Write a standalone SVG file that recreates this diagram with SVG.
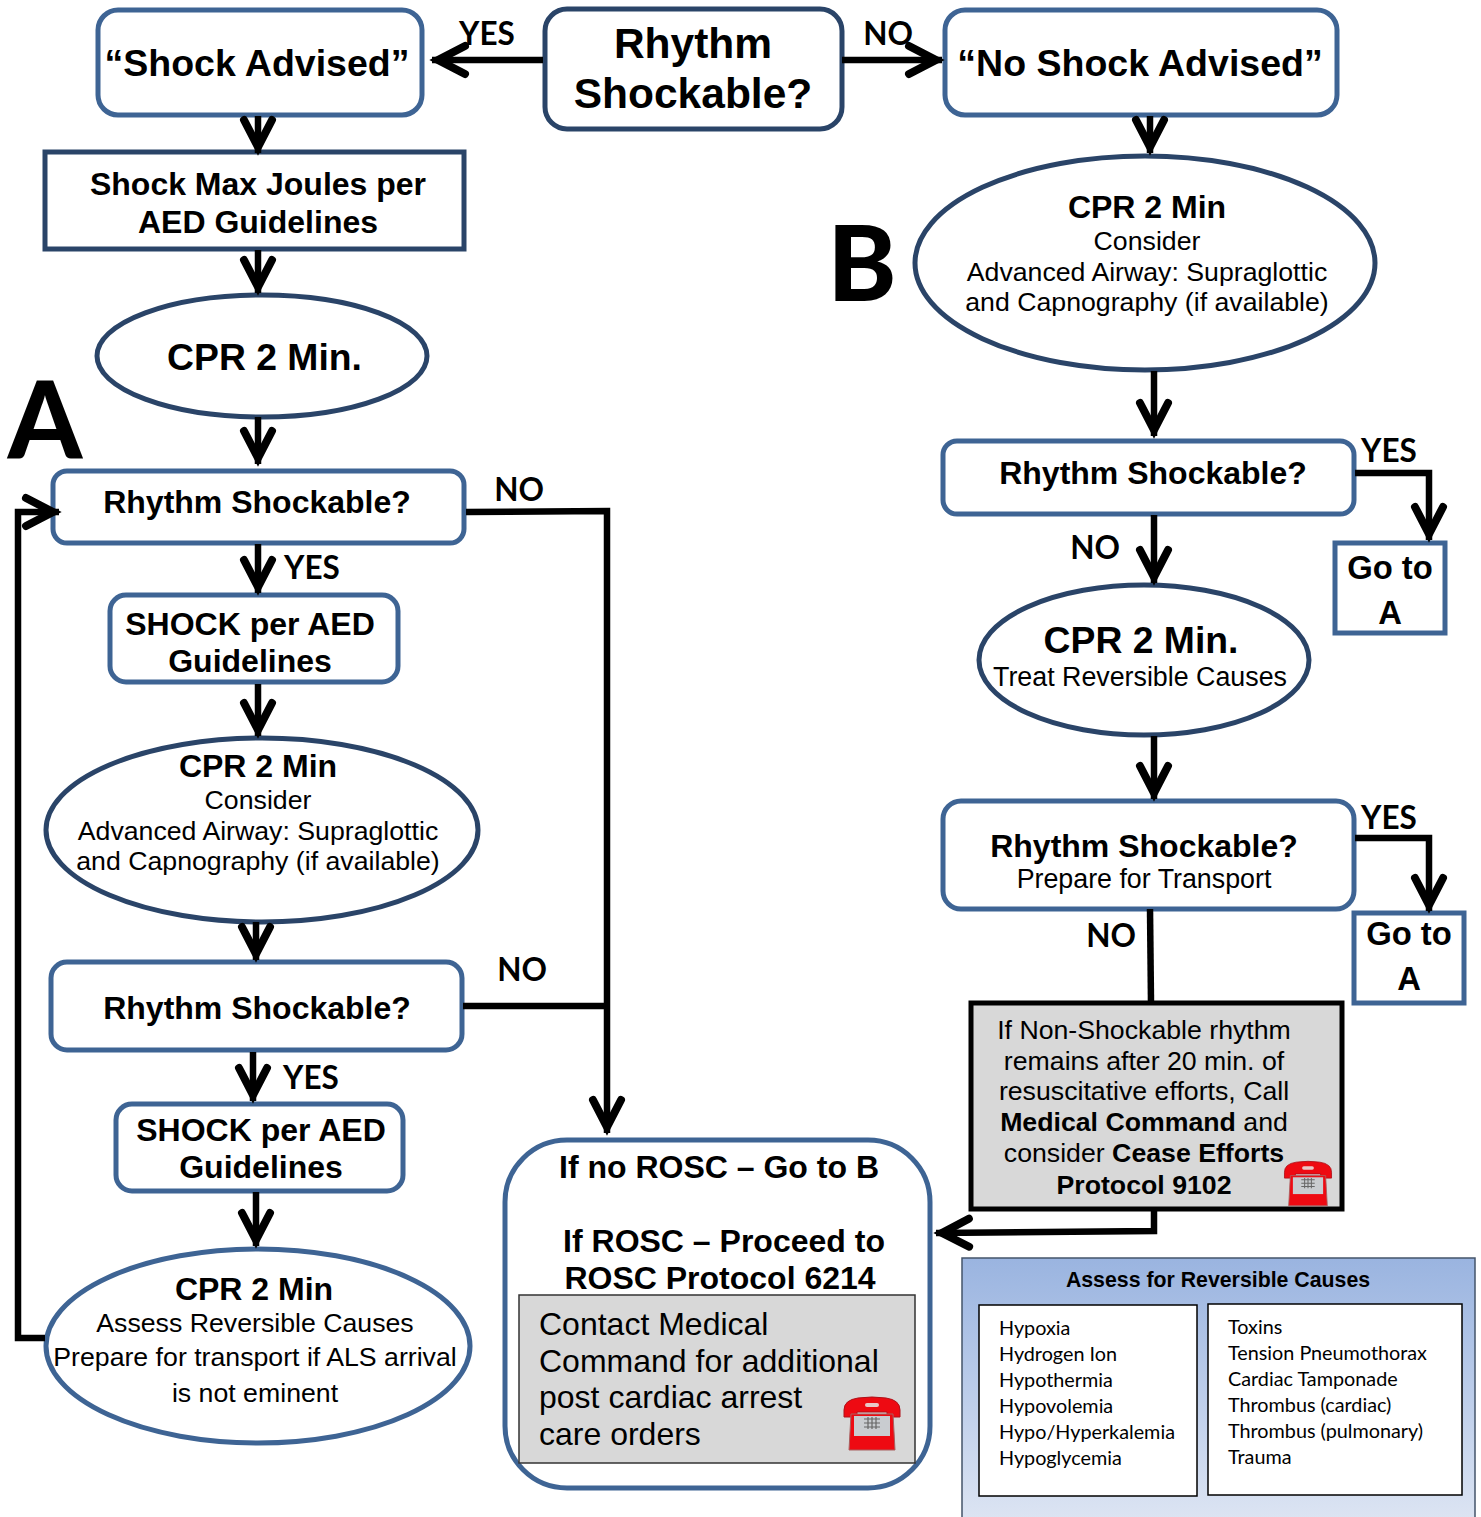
<svg xmlns="http://www.w3.org/2000/svg" width="1481" height="1517" viewBox="0 0 1481 1517">
<style>
text{font-family:"Liberation Sans",Arial,sans-serif;fill:#000;text-anchor:middle}
.b{font-weight:bold}
.l{font-family:Lato,"Open Sans",sans-serif;font-weight:bold;font-size:31.5px}
.big{font-family:Lato,"Open Sans",sans-serif;font-weight:900}
.c{font-family:Lato,"Open Sans",sans-serif;font-size:19.8px;text-anchor:start}
.n{fill:#fff;stroke:#3e6494;stroke-width:5}
.d{fill:#fff;stroke:#2a4468;stroke-width:5}
.g{fill:#d8d8d8;stroke:#000;stroke-width:5}
.w{fill:#fff;stroke:#000;stroke-width:1.5}
#connectors path,#connectors line{fill:none;stroke:#000;stroke-width:6.5}
.a{marker-end:url(#ah)}
</style>
<defs>
<marker id="ah" markerUnits="userSpaceOnUse" markerWidth="44" markerHeight="44" viewBox="-36 -22 44 44" refX="6" refY="0" orient="auto" overflow="visible">
<path d="M-27,-14 L0,0 L-27,14" fill="none" stroke="#000" stroke-width="8" stroke-linecap="round" stroke-linejoin="miter"/>
</marker>
<linearGradient id="bl" x1="0" y1="0" x2="0" y2="1"><stop offset="0" stop-color="#9ab4e0"/><stop offset="1" stop-color="#dde5f3"/></linearGradient>
<g id="phone">
<path d="M-28,-14 Q-28,-24 -14,-26 Q0,-28 14,-26 Q28,-24 28,-14 L28,-7 L15,-7 L15,-12 L-15,-12 L-15,-7 L-28,-7 Z" fill="#ee0a12" stroke="#b01018" stroke-width="1"/>
<rect x="-7" y="-21" width="14" height="4" rx="2" fill="#e8c8c8"/>
<path d="M-21,-10 L21,-10 L23,26 L-23,26 Z" fill="#ee0a12" stroke="#a86060" stroke-width="1"/>
<rect x="-18" y="-8" width="36" height="20" fill="#c9ccd0"/>
<path d="M-8,-5 H8 M-8,-1 H8 M-8,3 H8 M-4,-7 V5 M0,-7 V5 M4,-7 V5" stroke="#666" stroke-width="1.2" fill="none"/>
</g>
</defs>
<rect width="1481" height="1517" fill="#fff"/>
<g id="shock-advised"><rect class="n" x="98" y="10" width="324" height="105" rx="20"/><text class="b" x="257" y="76" font-size="37.5">“Shock Advised”</text></g>
<g id="rhythm-top"><rect class="d" x="545" y="9" width="297" height="120" rx="22"/><text class="b" x="693" y="58" font-size="42.5">Rhythm</text><text class="b" x="693" y="108" font-size="42.5">Shockable?</text></g>
<g id="no-shock-advised"><rect class="n" x="945" y="10" width="392" height="105" rx="20"/><text class="b" x="1140" y="76" font-size="37.5">“No Shock Advised”</text></g>
<g id="shock-max"><rect class="d" x="45" y="152" width="419" height="97"/><text class="b" x="258" y="195" font-size="32">Shock Max Joules per</text><text class="b" x="258" y="233" font-size="32">AED Guidelines</text></g>
<g id="cpr-a"><ellipse class="d" cx="262" cy="356" rx="165" ry="61"/><text class="b" x="264.500" y="370" font-size="37.3">CPR 2 Min.</text></g>
<g id="label-a"><text class="big" x="45" y="458" font-size="106">A</text></g>
<g id="rhythm-a1"><rect class="n" x="53" y="471" width="411" height="72" rx="14"/><text class="b" x="257" y="513" font-size="32">Rhythm Shockable?</text></g>
<g id="shock-a1"><rect class="n" x="110" y="595" width="288" height="87" rx="16"/><text class="b" x="250" y="635" font-size="32">SHOCK per AED</text><text class="b" x="250" y="671.500" font-size="32">Guidelines</text></g>
<g id="cpr-a2"><ellipse class="d" cx="262" cy="830" rx="216" ry="92"/><text class="b" x="258" y="777" font-size="32">CPR 2 Min</text><text x="258" y="809" font-size="26.7">Consider</text><text x="258" y="840" font-size="26.7">Advanced Airway: Supraglottic</text><text x="258" y="870" font-size="26.7">and Capnography (if available)</text></g>
<g id="rhythm-a2"><rect class="n" x="51" y="962" width="411" height="88" rx="16"/><text class="b" x="257" y="1019" font-size="32">Rhythm Shockable?</text></g>
<g id="shock-a2"><rect class="n" x="116" y="1104" width="287" height="87" rx="16"/><text class="b" x="261" y="1141" font-size="32">SHOCK per AED</text><text class="b" x="261" y="1178" font-size="32">Guidelines</text></g>
<g id="cpr-a3"><ellipse class="n" cx="258" cy="1346" rx="212" ry="97"/><text class="b" x="254" y="1300" font-size="32">CPR 2 Min</text><text x="255" y="1332" font-size="26.7">Assess Reversible Causes</text><text x="255" y="1366" font-size="26.7">Prepare for transport if ALS arrival</text><text x="255" y="1402" font-size="26.7">is not eminent</text></g>
<g id="rosc"><rect class="n" x="505" y="1140" width="425" height="348" rx="62"/><text class="b" x="719" y="1178" font-size="32">If no ROSC – Go to B</text><text class="b" x="724" y="1252" font-size="32">If ROSC – Proceed to</text><text class="b" x="720" y="1289" font-size="32">ROSC Protocol 6214</text></g>
<g id="contact"><rect x="519" y="1295" width="396" height="168" fill="#d8d8d8" stroke="#333" stroke-width="1.5"/><g font-size="32"><text x="539" y="1335" style="text-anchor:start">Contact Medical</text><text x="539" y="1372" style="text-anchor:start">Command for additional</text><text x="539" y="1408" style="text-anchor:start">post cardiac arrest</text><text x="539" y="1445" style="text-anchor:start">care orders</text></g><use href="#phone" x="872" y="1424"/></g>
<g id="label-b"><text class="big" x="862" y="301" font-size="104">B</text></g>
<g id="cpr-b"><ellipse class="d" cx="1145" cy="263" rx="230" ry="107"/><text class="b" x="1147" y="218" font-size="32">CPR 2 Min</text><text x="1147" y="250" font-size="26.7">Consider</text><text x="1147" y="281" font-size="26.7">Advanced Airway: Supraglottic</text><text x="1147" y="311" font-size="26.7">and Capnography (if available)</text></g>
<g id="rhythm-b1"><rect class="n" x="943" y="441" width="411" height="73" rx="14"/><text class="b" x="1153" y="484" font-size="32">Rhythm Shockable?</text></g>
<g id="goto-a1"><rect class="n" x="1335" y="543" width="110" height="90"/><text class="b" x="1390" y="579" font-size="32.8">Go to</text><text class="b" x="1390" y="624" font-size="32.8">A</text></g>
<g id="cpr-b2"><ellipse class="d" cx="1144" cy="660" rx="165" ry="75"/><text class="b" x="1141" y="653" font-size="37.3">CPR 2 Min.</text><text x="1140" y="686" font-size="26.8">Treat Reversible Causes</text></g>
<g id="rhythm-b2"><rect class="n" x="943" y="801" width="411" height="108" rx="18"/><text class="b" x="1144" y="857" font-size="32">Rhythm Shockable?</text><text x="1144" y="888" font-size="26.8">Prepare for Transport</text></g>
<g id="goto-a2"><rect class="n" x="1354" y="913" width="110" height="90"/><text class="b" x="1409" y="945" font-size="32.8">Go to</text><text class="b" x="1409" y="990" font-size="32.8">A</text></g>
<g id="cease"><rect class="g" x="971" y="1003" width="371" height="206"/><g font-size="26.7"><text x="1144" y="1039">If Non-Shockable rhythm</text><text x="1144" y="1070">remains after 20 min. of</text><text x="1144" y="1100">resuscitative efforts, Call</text><text x="1144" y="1131"><tspan class="b">Medical Command</tspan> and</text><text x="1144" y="1162">consider <tspan class="b">Cease Efforts</tspan></text><text class="b" x="1144" y="1194">Protocol 9102</text></g><use href="#phone" x="1308" y="1184" transform="translate(1308 1184) scale(.84) translate(-1308 -1184)"/></g>
<g id="reversible"><rect x="962" y="1258" width="513" height="265" fill="url(#bl)" stroke="#44546a" stroke-width="1.5"/><text class="b" x="1218" y="1287" font-size="21.3">Assess for Reversible Causes</text>
<rect class="w" x="979" y="1305" width="218" height="191"/><rect class="w" x="1208" y="1304" width="254" height="191"/>
<g><text class="c" x="999" y="1335">Hypoxia</text><text class="c" x="999" y="1361">Hydrogen Ion</text><text class="c" x="999" y="1387">Hypothermia</text><text class="c" x="999" y="1413">Hypovolemia</text><text class="c" x="999" y="1439">Hypo/Hyperkalemia</text><text class="c" x="999" y="1465">Hypoglycemia</text>
<text class="c" x="1228" y="1334">Toxins</text><text class="c" x="1228" y="1360">Tension Pneumothorax</text><text class="c" x="1228" y="1386">Cardiac Tamponade</text><text class="c" x="1228" y="1412">Thrombus (cardiac)</text><text class="c" x="1228" y="1438">Thrombus (pulmonary)</text><text class="c" x="1228" y="1464">Trauma</text></g></g>
<g id="connectors">
<line class="a" x1="543" y1="60" x2="432" y2="60"/>
<line class="a" x1="842" y1="60" x2="942" y2="60"/>
<line class="a" x1="258" y1="116" x2="258" y2="153"/>
<line class="a" x1="1150" y1="116" x2="1150" y2="153"/>
<line class="a" x1="258" y1="250" x2="258" y2="293"/>
<line class="a" x1="258" y1="417" x2="258" y2="464"/>
<line class="a" x1="258" y1="544" x2="258" y2="593"/>
<line class="a" x1="258" y1="684" x2="258" y2="736"/>
<line class="a" x1="256" y1="922" x2="256" y2="960"/>
<line class="a" x1="253" y1="1052" x2="253" y2="1101"/>
<line class="a" x1="256" y1="1192" x2="256" y2="1246"/>
<path class="a" d="M45,1338 H18 V512 H59"/>
<path class="a" d="M466,512 L607,511 V1133"/>
<line x1="463" y1="1006" x2="607" y2="1006"/>
<line class="a" x1="1154" y1="371" x2="1154" y2="436"/>
<line class="a" x1="1154" y1="515" x2="1154" y2="583"/>
<line class="a" x1="1154" y1="736" x2="1154" y2="799"/>
<path class="a" d="M1355,473 H1429 V540"/>
<path class="a" d="M1355,838 H1429 V911"/>
<line x1="1150" y1="909" x2="1151" y2="1003"/>
<path class="a" d="M1154,1210 V1231 L936,1233"/>
</g>
<g id="edge-labels">
<text class="l" x="487" y="45">YES</text><text class="l" x="888" y="45">NO</text><text class="l" x="519" y="501">NO</text><text class="l" x="312" y="579">YES</text><text class="l" x="522" y="981">NO</text><text class="l" x="311" y="1089">YES</text><text class="l" x="1389" y="462">YES</text><text class="l" x="1095" y="559">NO</text><text class="l" x="1389" y="829">YES</text><text class="l" x="1111" y="947">NO</text>
</g>
</svg>
